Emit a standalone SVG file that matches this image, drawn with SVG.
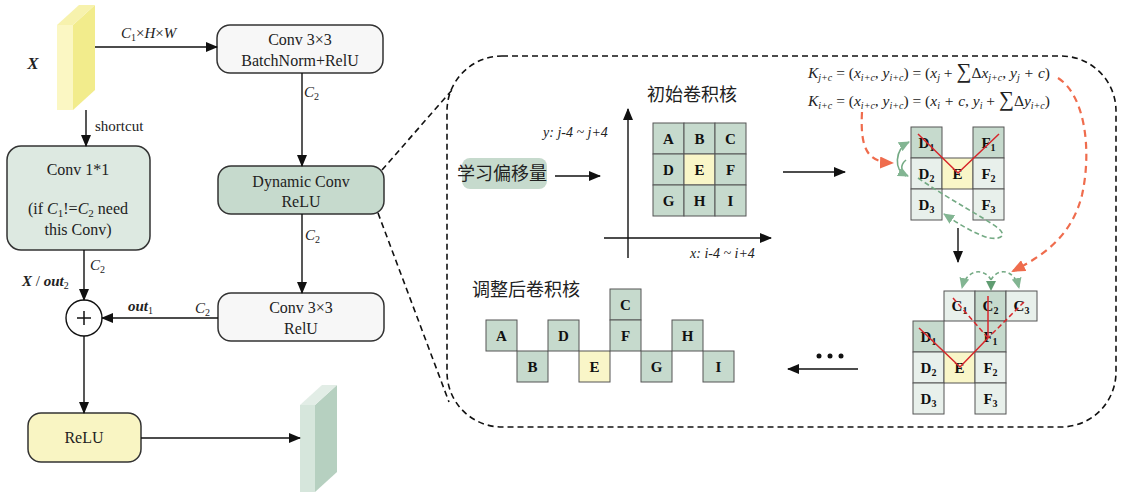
<svg xmlns="http://www.w3.org/2000/svg" width="1127" height="496" viewBox="0 0 1127 496">
<defs>
<style>
.t{font-family:"Liberation Serif","Times New Roman",serif;fill:#222;}
.box{stroke:#333;stroke-width:1.5;}
.ln{stroke:#111;stroke-width:1.4;fill:none;}
.cell{stroke:#555;stroke-width:1;}
.dk{fill:#c6dacd;}
.lt{fill:#e8f0eb;}
.yl{fill:#f9f6c8;}
.lab{font-family:"Liberation Serif",serif;font-weight:bold;font-size:15px;fill:#111;text-anchor:middle;}
.cjk{font-family:"Noto Sans CJK SC",sans-serif;font-size:18px;fill:#222;}
.f{font-family:"Liberation Serif",serif;font-style:italic;font-size:15.5px;fill:#222;}
.dash{stroke:#111;stroke-width:1.6;stroke-dasharray:6 4;fill:none;}
.or{stroke:#ef6c4d;stroke-width:2.2;stroke-dasharray:7 5;fill:none;}
.gr{stroke:#74aa84;stroke-width:1.6;fill:none;}
.red{stroke:#d7262b;stroke-width:1.5;fill:none;}
</style>
<marker id="ar" markerUnits="userSpaceOnUse" markerWidth="12" markerHeight="10" refX="11" refY="5" orient="auto"><path d="M0,0 L12,5 L0,10 z" fill="#111"/></marker>
<marker id="ao" markerUnits="userSpaceOnUse" markerWidth="14" markerHeight="12" refX="12" refY="6" orient="auto"><path d="M0,0 L14,6 L0,12 z" fill="#ef6c4d"/></marker>
<marker id="ag" markerUnits="userSpaceOnUse" markerWidth="11" markerHeight="10" refX="10" refY="5" orient="auto"><path d="M0,0 L11,5 L0,10 z" fill="#82b592"/></marker>
</defs>

<!-- Input feature map X -->
<g id="inputX">
<polygon points="57,25 73,25 73,110 57,110" fill="#fbf7c3"/>
<polygon points="73,25 95,5 95,90 73,110" fill="#f2ec8c"/>
<polygon points="57,25 79,5 95,5 73,25" fill="#f7f2ad"/>
<text class="t" x="33" y="69" font-size="17" font-weight="bold" font-style="italic" text-anchor="middle">X</text>
</g>

<g id="conv3bn">
<rect class="box" x="217" y="25" width="166" height="48" rx="13" fill="#f7f7f7"/>
<text class="t" x="300" y="45" font-size="16" text-anchor="middle">Conv 3×3</text>
<text class="t" x="300" y="66" font-size="16" text-anchor="middle">BatchNorm+RelU</text>
</g>

<g id="conv11">
<rect class="box" x="7" y="146" width="143" height="104" rx="14" fill="#dde9e1"/>
<text class="t" x="78" y="175" font-size="16" text-anchor="middle">Conv 1*1</text>
<text class="t" x="78" y="214" font-size="16" text-anchor="middle">(if <tspan font-style="italic">C</tspan><tspan font-size="11" dy="3">1</tspan><tspan dy="-3">!=</tspan><tspan font-style="italic">C</tspan><tspan font-size="11" dy="3">2</tspan><tspan dy="-3"> need</tspan></text>
<text class="t" x="78" y="235" font-size="16" text-anchor="middle">this Conv)</text>
</g>

<g id="dynconv">
<rect class="box" x="218" y="166" width="166" height="48" rx="13" fill="#c6dacd"/>
<text class="t" x="301" y="187" font-size="16" text-anchor="middle">Dynamic Conv</text>
<text class="t" x="301" y="207" font-size="16" text-anchor="middle">ReLU</text>
</g>

<g id="conv3relu">
<rect class="box" x="218" y="293" width="166" height="48" rx="13" fill="#f7f7f7"/>
<text class="t" x="301" y="313" font-size="16" text-anchor="middle">Conv 3×3</text>
<text class="t" x="301" y="334" font-size="16" text-anchor="middle">RelU</text>
</g>

<g id="add">
<circle cx="84" cy="318" r="18" fill="#fff" stroke="#111" stroke-width="1.4"/>
<line x1="77" y1="318" x2="91" y2="318" stroke="#111" stroke-width="1.5"/>
<line x1="84" y1="311" x2="84" y2="325" stroke="#111" stroke-width="1.5"/>
</g>

<g id="relu">
<rect class="box" x="28" y="413" width="113" height="49" rx="13" fill="#f9f5c3"/>
<text class="t" x="84" y="443" font-size="16" text-anchor="middle">ReLU</text>
</g>

<g id="output">
<polygon points="300,405 315,405 315,492 300,492" fill="#d6e6dc"/>
<polygon points="315,405 337,385 337,472 315,492" fill="#b6d0c0"/>
<polygon points="300,405 322,385 337,385 315,405" fill="#e2ede6"/>
</g>

<!-- connectors (left) -->
<g id="connectors">
<line class="ln" x1="95" y1="47" x2="217" y2="47" marker-end="url(#ar)"/>
<line class="ln" x1="302" y1="73" x2="302" y2="166" marker-end="url(#ar)"/>
<line class="ln" x1="86" y1="110" x2="86" y2="146" marker-end="url(#ar)"/>
<line class="ln" x1="84" y1="250" x2="84" y2="300" marker-end="url(#ar)"/>
<line class="ln" x1="302" y1="214" x2="302" y2="293" marker-end="url(#ar)"/>
<line class="ln" x1="218" y1="318" x2="102" y2="318" marker-end="url(#ar)"/>
<line class="ln" x1="84" y1="336" x2="84" y2="413" marker-end="url(#ar)"/>
<line class="ln" x1="141" y1="438" x2="300" y2="438" marker-end="url(#ar)"/>
<line class="dash" x1="382" y1="170" x2="452" y2="90"/>
<line class="dash" x1="378" y1="213" x2="449" y2="402"/>
</g>

<g id="leftLabels">
<text class="t" x="121" y="38" font-size="15" font-style="italic">C<tspan font-size="10" dy="3" font-style="normal">1</tspan><tspan dy="-3" font-style="normal">×</tspan>H<tspan font-style="normal">×</tspan>W</text>
<text class="t" x="95" y="131" font-size="15">shortcut</text>
<text class="t" x="304" y="97" font-size="15" font-style="italic" fill="#444">C<tspan font-size="10" dy="3" font-style="normal">2</tspan></text>
<text class="t" x="90" y="270" font-size="15" font-style="italic" fill="#444">C<tspan font-size="10" dy="3" font-style="normal">2</tspan></text>
<text class="t" x="22" y="286" font-size="15" font-weight="bold" font-style="italic">X <tspan font-weight="normal" font-style="normal">/ </tspan>out<tspan font-size="10" dy="3" font-weight="normal" font-style="normal">2</tspan></text>
<text class="t" x="305" y="240" font-size="15" font-style="italic" fill="#444">C<tspan font-size="10" dy="3" font-style="normal">2</tspan></text>
<text class="t" x="128" y="311" font-size="15" font-weight="bold" font-style="italic">out<tspan font-size="10" dy="3" font-weight="normal" font-style="normal">1</tspan></text>
<text class="t" x="195" y="313" font-size="15" font-style="italic" fill="#444">C<tspan font-size="10" dy="3" font-style="normal">2</tspan></text>
</g>

<!-- dynamic conv detail region -->
<g id="detailRegion">
<rect class="dash" x="447" y="56" width="669" height="371" rx="55" ry="55" stroke-width="1.5"/>
</g>

<g id="offsetLearn">
<rect x="462" y="158" width="85" height="31" rx="8" fill="#c6dacd"/>
<text class="cjk" x="457" y="180">学习偏移量</text>
</g>

<g id="axes">
<line class="ln" x1="628" y1="258" x2="628" y2="109" marker-end="url(#ar)"/>
<line class="ln" x1="604" y1="238" x2="771" y2="238" marker-end="url(#ar)"/>
<text class="t" x="543" y="137" font-size="14" font-style="italic">y: j-4 ~ j+4</text>
<text class="t" x="690" y="258" font-size="14" font-style="italic">x: i-4 ~ i+4</text>
</g>

<g id="initKernel">
<text class="cjk" x="647" y="101">初始卷积核</text>
<rect class="cell dk" x="653" y="123" width="31" height="31"/>
<rect class="cell dk" x="684" y="123" width="31" height="31"/>
<rect class="cell dk" x="715" y="123" width="31" height="31"/>
<rect class="cell dk" x="653" y="154" width="31" height="31"/>
<rect class="cell yl" x="684" y="154" width="31" height="31"/>
<rect class="cell dk" x="715" y="154" width="31" height="31"/>
<rect class="cell dk" x="653" y="185" width="31" height="31"/>
<rect class="cell dk" x="684" y="185" width="31" height="31"/>
<rect class="cell dk" x="715" y="185" width="31" height="31"/>
<text class="lab" x="668.5" y="144">A</text>
<text class="lab" x="699.5" y="144">B</text>
<text class="lab" x="730.5" y="144">C</text>
<text class="lab" x="668.5" y="175">D</text>
<text class="lab" x="699.5" y="175">E</text>
<text class="lab" x="730.5" y="175">F</text>
<text class="lab" x="668.5" y="206">G</text>
<text class="lab" x="699.5" y="206">H</text>
<text class="lab" x="730.5" y="206">I</text>
</g>

<g id="formulas">
<text class="f" x="808" y="78">K<tspan font-size="10" dy="3">j+c</tspan><tspan dy="-3" font-style="normal"> = (</tspan>x<tspan font-size="10" dy="3">i+c</tspan><tspan dy="-3" font-style="normal">, </tspan>y<tspan font-size="10" dy="3">i+c</tspan><tspan dy="-3" font-style="normal">) = (</tspan>x<tspan font-size="10" dy="3">j</tspan><tspan dy="-3" font-style="normal"> + </tspan><tspan font-style="normal" font-size="21">∑</tspan><tspan font-style="normal">Δ</tspan>x<tspan font-size="10" dy="3">j+c</tspan><tspan dy="-3" font-style="normal">, </tspan>y<tspan font-size="10" dy="3">j</tspan><tspan dy="-3"> + c</tspan><tspan font-style="normal">)</tspan></text>
<text class="f" x="808" y="106">K<tspan font-size="10" dy="3">i+c</tspan><tspan dy="-3" font-style="normal"> = (</tspan>x<tspan font-size="10" dy="3">i+c</tspan><tspan dy="-3" font-style="normal">, </tspan>y<tspan font-size="10" dy="3">i+c</tspan><tspan dy="-3" font-style="normal">) = (</tspan>x<tspan font-size="10" dy="3">i</tspan><tspan dy="-3"> + c, y</tspan><tspan font-size="10" dy="3">i</tspan><tspan dy="-3" font-style="normal"> + </tspan><tspan font-style="normal" font-size="21">∑</tspan><tspan font-style="normal">Δ</tspan>y<tspan font-size="10" dy="3">i+c</tspan><tspan dy="-3" font-style="normal">)</tspan></text>
</g>

<g id="kernelStep1">
<rect class="cell dk" x="911" y="127" width="31" height="31"/>
<rect class="cell dk" x="973" y="127" width="31" height="31"/>
<rect class="cell lt" x="911" y="158" width="31" height="31"/>
<rect class="cell yl" x="942" y="158" width="31" height="31"/>
<rect class="cell lt" x="973" y="158" width="31" height="31"/>
<rect class="cell lt" x="911" y="189" width="31" height="31"/>
<rect class="cell lt" x="973" y="189" width="31" height="31"/>
<text class="lab" x="926.5" y="148">D<tspan font-size="10" dy="3">1</tspan></text>
<text class="lab" x="988.5" y="148">F<tspan font-size="10" dy="3">1</tspan></text>
<text class="lab" x="926.5" y="179">D<tspan font-size="10" dy="3">2</tspan></text>
<text class="lab" x="957.5" y="179">E</text>
<text class="lab" x="988.5" y="179">F<tspan font-size="10" dy="3">2</tspan></text>
<text class="lab" x="926.5" y="210">D<tspan font-size="10" dy="3">3</tspan></text>
<text class="lab" x="988.5" y="210">F<tspan font-size="10" dy="3">3</tspan></text>
<polyline class="red" points="918,134 958,173 999,134"/>
</g>

<g id="kernelStep2">
<rect class="cell lt" x="944" y="291" width="31" height="30"/>
<rect class="cell dk" x="975" y="291" width="31" height="30"/>
<rect class="cell lt" x="1006" y="291" width="31" height="30"/>
<rect class="cell dk" x="913" y="321" width="31" height="31"/>
<rect class="cell dk" x="975" y="321" width="31" height="31"/>
<rect class="cell lt" x="913" y="352" width="31" height="31"/>
<rect class="cell yl" x="944" y="352" width="31" height="31"/>
<rect class="cell lt" x="975" y="352" width="31" height="31"/>
<rect class="cell lt" x="913" y="383" width="31" height="31"/>
<rect class="cell lt" x="975" y="383" width="31" height="31"/>
<text class="lab" x="959.5" y="311">C<tspan font-size="10" dy="3">1</tspan></text>
<text class="lab" x="990.5" y="311">C<tspan font-size="10" dy="3">2</tspan></text>
<text class="lab" x="1021.5" y="311">C<tspan font-size="10" dy="3">3</tspan></text>
<text class="lab" x="928.5" y="342">D<tspan font-size="10" dy="3">1</tspan></text>
<text class="lab" x="990.5" y="342">F<tspan font-size="10" dy="3">1</tspan></text>
<text class="lab" x="928.5" y="373">D<tspan font-size="10" dy="3">2</tspan></text>
<text class="lab" x="959.5" y="373">E</text>
<text class="lab" x="990.5" y="373">F<tspan font-size="10" dy="3">2</tspan></text>
<text class="lab" x="928.5" y="404">D<tspan font-size="10" dy="3">3</tspan></text>
<text class="lab" x="990.5" y="404">F<tspan font-size="10" dy="3">3</tspan></text>
<polyline class="red" points="919,328 960,367 988,338"/>
<line class="red" x1="988" y1="296" x2="988" y2="338"/>
<line class="red" x1="953" y1="298" x2="988" y2="338" stroke-dasharray="5 3"/>
<line class="red" x1="1024" y1="302" x2="988" y2="338" stroke-dasharray="5 3"/>
</g>

<g id="adjustedKernel">
<text class="cjk" x="472" y="296">调整后卷积核</text>
<rect class="cell dk" x="486" y="320" width="31" height="31"/>
<rect class="cell dk" x="517" y="351" width="31" height="31"/>
<rect class="cell dk" x="548" y="320" width="31" height="31"/>
<rect class="cell yl" x="579" y="351" width="31" height="31"/>
<rect class="cell dk" x="610" y="289" width="31" height="31"/>
<rect class="cell dk" x="610" y="320" width="31" height="31"/>
<rect class="cell dk" x="641" y="351" width="31" height="31"/>
<rect class="cell dk" x="672" y="320" width="31" height="31"/>
<rect class="cell dk" x="703" y="351" width="31" height="31"/>
<text class="lab" x="501.5" y="341">A</text>
<text class="lab" x="532.5" y="372">B</text>
<text class="lab" x="563.5" y="341">D</text>
<text class="lab" x="594.5" y="372">E</text>
<text class="lab" x="625.5" y="310">C</text>
<text class="lab" x="625.5" y="341">F</text>
<text class="lab" x="656.5" y="372">G</text>
<text class="lab" x="687.5" y="341">H</text>
<text class="lab" x="718.5" y="372">I</text>
</g>

<g id="detailConnectors">
<line class="ln" x1="555" y1="176" x2="600" y2="176" marker-end="url(#ar)"/>
<line class="ln" x1="783" y1="172" x2="845" y2="172" marker-end="url(#ar)"/>
<line class="ln" x1="958" y1="228" x2="958" y2="262" marker-end="url(#ar)"/>
<line class="ln" x1="858" y1="369" x2="788" y2="369" marker-end="url(#ar)"/>
<circle cx="819" cy="356" r="2.5" fill="#111"/>
<circle cx="830" cy="356" r="2.5" fill="#111"/>
<circle cx="841" cy="356" r="2.5" fill="#111"/>
<path class="or" d="M862,112 C860,150 868,162 892,163" marker-end="url(#ao)"/>
<path class="or" d="M1058,78 C1085,95 1092,150 1082,195 C1072,235 1045,255 1013,271" marker-end="url(#ao)"/>
<path class="gr" d="M906,176 C894,170 894,150 909,142" marker-end="url(#ag)"/>
<path class="gr" d="M906,160 C900,165 900,172 908,176" marker-end="url(#ag)" stroke="none"/>
<path class="gr" d="M918,178 C950,200 985,218 998,228 C1010,238 995,241 983,236 C968,230 956,222 944,214" stroke-dasharray="5 3" marker-end="url(#ag)"/>
<path class="gr" d="M991,280 C985,268 967,268 962,288" stroke-dasharray="4 3" marker-end="url(#ag)"/>
<path class="gr" d="M991,280 C997,268 1014,268 1019,288" stroke-dasharray="4 3" marker-end="url(#ag)"/>
<polygon points="986,281 996,281 991,291" fill="#5f9c71"/>
</g>
</svg>
